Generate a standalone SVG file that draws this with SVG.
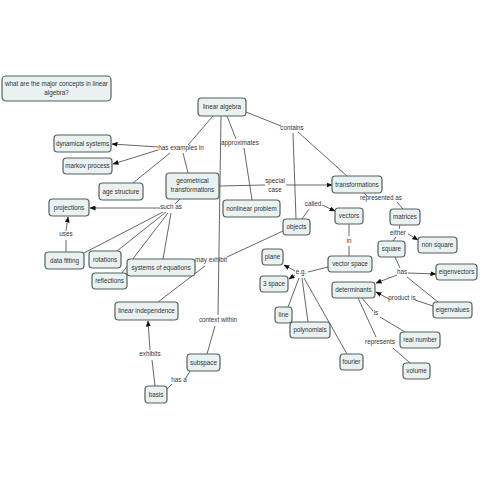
<svg xmlns="http://www.w3.org/2000/svg" width="480" height="480" viewBox="0 0 480 480">
<defs>
<marker id="ah" markerWidth="6" markerHeight="5" refX="5.5" refY="2.5" orient="auto" markerUnits="userSpaceOnUse">
<path d="M0,0 L6,2.5 L0,5 Z" fill="#111"/>
</marker>
</defs>
<style>
.n rect{fill:#e9f1f1;stroke:#56605f;stroke-width:1.2}
.n text,.l{font-family:"Liberation Sans",Arial,sans-serif;font-size:6.3px;fill:#333;text-anchor:middle}
.c line{stroke:#555;stroke-width:0.9}
.c line.a{marker-end:url(#ah)}
</style>
<rect width="480" height="480" fill="#fff"/>
<g class="c" id="connectors">
<line x1="213" y1="116" x2="188" y2="145"/>
<line class="a" x1="158" y1="147" x2="112" y2="144"/>
<line class="a" x1="158" y1="150" x2="113" y2="164"/>
<line x1="170" y1="153" x2="133" y2="183"/>
<line x1="183" y1="153" x2="188" y2="173"/>
<line x1="227" y1="116" x2="236" y2="139"/>
<line x1="244" y1="148" x2="252" y2="200"/>
<line x1="246" y1="112" x2="281" y2="126"/>
<line x1="298" y1="132" x2="347" y2="176"/>
<line x1="293" y1="133" x2="296" y2="219"/>
<line x1="221" y1="116" x2="218" y2="315"/>
<line x1="215" y1="326" x2="207" y2="354"/>
<line x1="219" y1="186" x2="265" y2="185"/>
<line class="a" x1="286" y1="185" x2="332" y2="185"/>
<line x1="180" y1="199" x2="175" y2="204"/>
<line class="a" x1="160" y1="208" x2="90" y2="208"/>
<line x1="163" y1="212" x2="84" y2="253"/>
<line x1="166" y1="212" x2="117" y2="251"/>
<line x1="168" y1="213" x2="122" y2="273"/>
<line x1="171" y1="213" x2="163" y2="259"/>
<line x1="66" y1="252" x2="66" y2="240"/>
<line class="a" x1="66" y1="231" x2="68" y2="217"/>
<line x1="302" y1="219" x2="309" y2="209"/>
<line class="a" x1="322" y1="205" x2="335" y2="211"/>
<line x1="283" y1="231" x2="227" y2="257"/>
<line x1="205" y1="266" x2="158" y2="302"/>
<line x1="364" y1="193" x2="367" y2="196"/>
<line x1="397" y1="202" x2="403" y2="209"/>
<line x1="349" y1="224" x2="349" y2="236"/>
<line x1="349" y1="246" x2="349" y2="256"/>
<line x1="400" y1="225" x2="399" y2="229"/>
<line class="a" x1="408" y1="234" x2="418" y2="240"/>
<line x1="396" y1="237" x2="393" y2="241"/>
<line x1="395" y1="257" x2="400" y2="268"/>
<line class="a" x1="408" y1="273" x2="436" y2="274"/>
<line class="a" x1="397" y1="275" x2="376" y2="283"/>
<line x1="407" y1="277" x2="438" y2="302"/>
<line x1="433" y1="306" x2="415" y2="300"/>
<line class="a" x1="389" y1="299" x2="376" y2="292"/>
<line x1="362" y1="298" x2="373" y2="311"/>
<line x1="380" y1="317" x2="405" y2="332"/>
<line x1="358" y1="298" x2="376" y2="337"/>
<line x1="393" y1="348" x2="410" y2="363"/>
<line x1="328" y1="267" x2="308" y2="272"/>
<line class="a" x1="295" y1="271" x2="284" y2="265"/>
<line class="a" x1="295" y1="275" x2="289" y2="279"/>
<line x1="299" y1="278" x2="288" y2="307"/>
<line x1="302" y1="278" x2="308" y2="322"/>
<line x1="304" y1="278" x2="347" y2="354"/>
<line x1="155" y1="386" x2="152" y2="360"/>
<line class="a" x1="150" y1="350" x2="148" y2="321"/>
<line x1="167" y1="389" x2="172" y2="384"/>
<line x1="186" y1="378" x2="190" y2="371"/>
</g>
<g id="link-labels">
<text class="l" x="181" y="150">has examples in</text>
<text class="l" x="240" y="145">approximates</text>
<text class="l" x="292" y="130">contains</text>
<text class="l" x="275" y="183">special</text>
<text class="l" x="275" y="192">case</text>
<text class="l" x="171" y="209">such as</text>
<text class="l" x="66" y="236">uses</text>
<text class="l" x="211" y="262">may exhibit</text>
<text class="l" x="313" y="206">called</text>
<text class="l" x="381" y="200">represented as</text>
<text class="l" x="349" y="243">in</text>
<text class="l" x="398" y="235">either</text>
<text class="l" x="402" y="274">has</text>
<text class="l" x="301" y="274">e.g.</text>
<text class="l" x="402" y="300">product is</text>
<text class="l" x="376" y="315">is</text>
<text class="l" x="380" y="344">represents</text>
<text class="l" x="150" y="356">exhibits</text>
<text class="l" x="179" y="382">has a</text>
<text class="l" x="218" y="322">context within</text>
</g>
<g class="n" id="question"><rect x="2" y="76" width="109" height="25" rx="4"/><text x="56.5" y="86">what are the major concepts in linear</text><text x="56.5" y="95">algebra?</text></g>
<g class="n" id="linear-algebra"><rect x="198" y="98" width="48" height="18" rx="3.5"/><text x="222" y="109">linear algebra</text></g>
<g class="n" id="dynamical-systems"><rect x="54" y="135" width="57" height="17" rx="3.5"/><text x="82.5" y="145.5">dynamical systems</text></g>
<g class="n" id="markov-process"><rect x="63" y="158" width="49" height="16" rx="3.5"/><text x="87.5" y="168">markov process</text></g>
<g class="n" id="age-structure"><rect x="99" y="183" width="44" height="17" rx="3.5"/><text x="121" y="193.5">age structure</text></g>
<g class="n" id="geometrical-transformations"><rect x="166" y="173" width="53" height="26" rx="3.5"/><text x="192.5" y="183">geometrical</text><text x="192.5" y="192">transformations</text></g>
<g class="n" id="projections"><rect x="49" y="199" width="40" height="17" rx="3.5"/><text x="69" y="209.5">projections</text></g>
<g class="n" id="data-fitting"><rect x="45" y="252" width="39" height="17" rx="3.5"/><text x="64.5" y="262.5">data fitting</text></g>
<g class="n" id="rotations"><rect x="89" y="251" width="32" height="17" rx="3.5"/><text x="105" y="261.5">rotations</text></g>
<g class="n" id="reflections"><rect x="92" y="273" width="35" height="16" rx="3.5"/><text x="109.5" y="283">reflections</text></g>
<g class="n" id="systems-of-equations"><rect x="127" y="259" width="68" height="17" rx="3.5"/><text x="161" y="269.5">systems of equations</text></g>
<g class="n" id="nonlinear-problem"><rect x="223" y="200" width="57" height="17" rx="3.5"/><text x="251.5" y="210.5">nonlinear problem</text></g>
<g class="n" id="objects"><rect x="283" y="219" width="27" height="16" rx="3.5"/><text x="296.5" y="229">objects</text></g>
<g class="n" id="transformations"><rect x="332" y="176" width="50" height="17" rx="3.5"/><text x="357" y="186.5">transformations</text></g>
<g class="n" id="vectors"><rect x="335" y="208" width="28" height="16" rx="3.5"/><text x="349" y="218">vectors</text></g>
<g class="n" id="matrices"><rect x="390" y="209" width="30" height="16" rx="3.5"/><text x="405" y="219">matrices</text></g>
<g class="n" id="square"><rect x="378" y="241" width="27" height="16" rx="3.5"/><text x="391.5" y="251">square</text></g>
<g class="n" id="non-square"><rect x="418" y="237" width="39" height="16" rx="3.5"/><text x="437.5" y="247">non square</text></g>
<g class="n" id="vector-space"><rect x="328" y="256" width="44" height="16" rx="3.5"/><text x="350" y="266">vector space</text></g>
<g class="n" id="eigenvectors"><rect x="436" y="264" width="41" height="16" rx="3.5"/><text x="456.5" y="274">eigenvectors</text></g>
<g class="n" id="eigenvalues"><rect x="433" y="302" width="39" height="16" rx="3.5"/><text x="452.5" y="312">eigenvalues</text></g>
<g class="n" id="determinants"><rect x="332" y="282" width="43" height="16" rx="3.5"/><text x="353.5" y="292">determinants</text></g>
<g class="n" id="real-number"><rect x="400" y="332" width="40" height="16" rx="3.5"/><text x="420" y="342">real number</text></g>
<g class="n" id="volume"><rect x="403" y="363" width="27" height="16" rx="3.5"/><text x="416.5" y="373">volume</text></g>
<g class="n" id="fourier"><rect x="340" y="354" width="23" height="16" rx="3.5"/><text x="351.5" y="364">fourier</text></g>
<g class="n" id="plane"><rect x="262" y="249" width="21" height="16" rx="3.5"/><text x="272.5" y="259">plane</text></g>
<g class="n" id="three-space"><rect x="260" y="276" width="28" height="16" rx="3.5"/><text x="274" y="286">3 space</text></g>
<g class="n" id="line"><rect x="275" y="307" width="17" height="16" rx="3.5"/><text x="283.5" y="317">line</text></g>
<g class="n" id="polynomials"><rect x="290" y="322" width="40" height="16" rx="3.5"/><text x="310" y="332">polynomials</text></g>
<g class="n" id="linear-independence"><rect x="115" y="302" width="63" height="18" rx="3.5"/><text x="146.5" y="313">linear independence</text></g>
<g class="n" id="subspace"><rect x="187" y="354" width="33" height="17" rx="3.5"/><text x="203.5" y="364.5">subspace</text></g>
<g class="n" id="basis"><rect x="145" y="386" width="22" height="17" rx="3.5"/><text x="156" y="396.5">basis</text></g>
</svg>
